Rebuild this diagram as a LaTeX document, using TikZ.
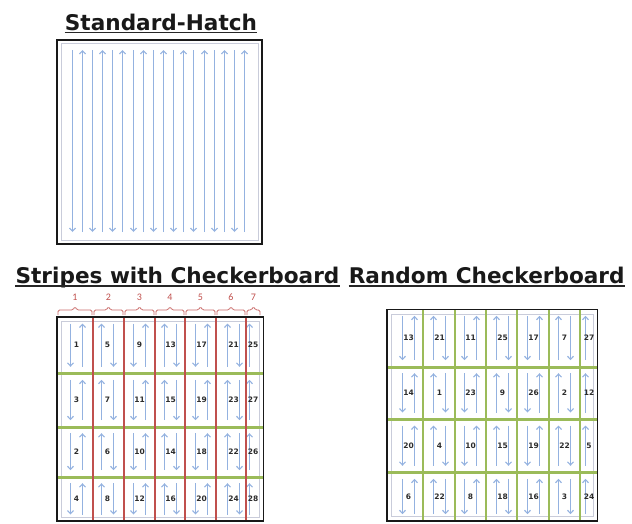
\documentclass[tikz,border=0pt]{standalone}
\usepackage{fontspec}
\usetikzlibrary{arrows.meta}
\newfontfamily\headfont{DejaVu Sans}
\newfontfamily\bracefont{Carlito}
\definecolor{HatchBlue}{HTML}{94B2E0}
\definecolor{FrameGrey}{HTML}{C9CCDA}
\definecolor{StripeRed}{HTML}{C0504D}
\definecolor{CheckGreen}{HTML}{9BBB59}
\definecolor{CellInk}{HTML}{2B2B2B}

% one panel of cells: #1 name, #2 first arrow x, #3 arrow x in the narrow last strip,
% #4 row edges, #5 cell numbers row by row
\newcommand{\hatchcells}[5]{%
  \foreach \nums [count=\rowi] in {#5} {
    \pgfmathsetmacro\ya{{#4}[\rowi-1]+6.5}
    \pgfmathsetmacro\yb{{#4}[\rowi]-6.5}
    \pgfmathsetmacro\ym{(\ya+\yb)/2}
    \foreach \n [count=\coli] in \nums {
      \pgfmathsetmacro\xa{round(#2+31.3*(\coli-1))+0.5}
      \pgfmathsetmacro\xb{\xa+12}
      \ifnum\coli=7
        \draw[hatch] (#3,\yb) -- (#3,\ya);
        \node[cellno] (#1-\rowi-\coli) at (#3+3.5,\ym) {\n};
      \else
        \ifodd\coli
          \draw[hatch] (\xa,\ya) -- (\xa,\yb);
          \draw[hatch] (\xb,\yb) -- (\xb,\ya);
        \else
          \draw[hatch] (\xa,\yb) -- (\xa,\ya);
          \draw[hatch] (\xb,\ya) -- (\xb,\yb);
        \fi
        \node[cellno] (#1-\rowi-\coli) at ({(\xa+\xb)/2},\ym) {\n};
      \fi
    }
  }%
}

\begin{document}
\begin{tikzpicture}[
  x=1pt, y=-1pt,
  paneltitle/.style={font=\headfont\bfseries\fontsize{21.6}{24}\selectfont, text=black!90, inner sep=0pt, anchor=base},
  underline/.style={draw=black!85, line width=1.4pt},
  outerframe/.style={draw=black!90, line width=1.6pt},
  innerframe/.style={draw=FrameGrey, line width=0.9pt},
  hatch/.style={draw=HatchBlue, line width=1.1pt, -{Straight Barb[length=3.2pt,width=6pt]}},
  stripeline/.style={draw=StripeRed, line width=1.6pt},
  checkline/.style={draw=CheckGreen, line width=3pt},
  stripebrace/.style={draw=StripeRed!85, line width=0.8pt, rounded corners=1.5pt},
  bracelabel/.style={font=\bracefont\fontsize{10}{11}\selectfont, text=StripeRed, inner sep=0pt},
  cellno/.style={font=\headfont\bfseries\fontsize{7.5}{8}\selectfont, text=CellInk, inner sep=0pt}
]
\useasboundingbox (0,0) rectangle (632,523);

% titles
\node[paneltitle] (hatchtitle) at (161,30) {Standard-Hatch};
\node[paneltitle] (stripetitle) at (177.5,283.5) {Stripes with Checkerboard};
\node[paneltitle] (randomtitle) at (486.7,283.5) {Random Checkerboard};
\foreach \t in {hatchtitle,stripetitle,randomtitle}
  \draw[underline] ([yshift=-2.6pt]\t.base west) -- ([yshift=-2.6pt]\t.base east);

% standard hatch
\draw[innerframe] (61,43.5) rectangle (258.5,240.5);
\foreach \i in {0,...,17} {
  \pgfmathsetmacro\hx{round(71.7+10.14*\i)+0.5}
  \ifodd\i
    \draw[hatch] (\hx,232) -- (\hx,50);
  \else
    \draw[hatch] (\hx,50) -- (\hx,232);
  \fi
}
\draw[outerframe] (57,40) rectangle (262,244);

% stripes with checkerboard
\foreach \xl/\xr [count=\k] in {57/93, 93/124, 124/155, 155/185, 185/216, 216/246, 246/261} {
  \pgfmathsetmacro\xm{(\xl+\xr)/2}
  \draw[stripebrace] (\xl+1,315) -- (\xl+1,310) -- (\xm-2,310) -- (\xm,306.5) -- (\xm+2,310) -- (\xr-1,310) -- (\xr-1,315);
  \node[bracelabel] (strip-\k) at (\xm,297) {\k};
}
\draw[innerframe] (61,321.7) rectangle (259.5,517);
\hatchcells{sc}{70}{249.5}{317,373.3,426.7,476.7,521}{{1,5,9,13,17,21,25},{3,7,11,15,19,23,27},{2,6,10,14,18,22,26},{4,8,12,16,20,24,28}}
\foreach \y in {373,427,477}
  \draw[checkline] (56.7,\y) -- (263.5,\y);
\foreach \x in {93,124,155,185,216,246}
  \draw[stripeline] (\x,317) -- (\x,521);
\draw[outerframe] (56.7,317) rectangle (263.5,521);

% random checkerboard
\draw[innerframe] (391.7,314) rectangle (593,516.5);
\hatchcells{rc}{401.7}{585.5}{309.3,366.7,419,472.3,520.7}{{13,21,11,25,17,7,27},{14,1,23,9,26,2,12},{20,4,10,15,19,22,5},{6,22,8,18,16,3,24}}
\foreach \y in {367,419,472}
  \draw[checkline] (386.7,\y) -- (597.5,\y);
\foreach \x in {423,455,486,517,549,580}
  \draw[checkline, line width=2.6pt] (\x,309.3) -- (\x,520.7);
\draw[outerframe] (386.7,309.3) rectangle (597.5,520.7);
\end{tikzpicture}
\end{document}
